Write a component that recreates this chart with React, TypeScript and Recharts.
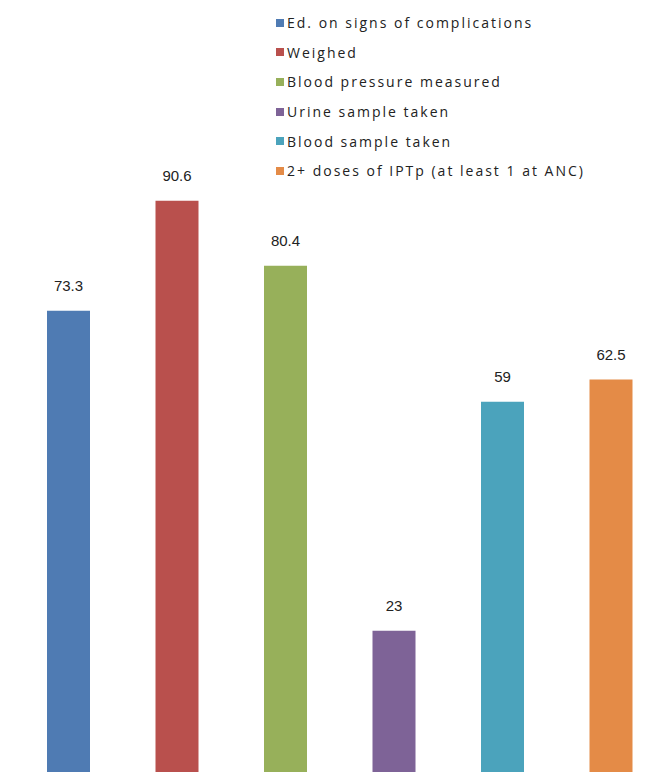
import { BarChart, Bar, XAxis, YAxis, Cell, LabelList } from 'recharts';

const categories = [
	'Ed. on signs of complications',
	'Weighed',
	'Blood pressure measured',
	'Urine sample taken',
	'Blood sample taken',
	'2+ doses of IPTp (at least 1 at ANC)',
];
const values = [73.3, 90.6, 80.4, 23, 59, 62.5];
const colors = ['#4F7BB3', '#B9504D', '#97B05A', '#7E6397', '#4BA3BC', '#E48B47'];

const chartData = categories.map((name, i) => ({ name, value: values[i] }));

function ChartLegend() {
	return (
		<div
			style={{
				position: 'absolute',
				top: 8,
				left: 276,
				fontFamily: '"Open Sans", sans-serif',
				fontSize: 14,
				letterSpacing: 2,
				color: '#222',
			}}>
			{categories.map((name, i) => (
				<div
					key={name}
					style={{ display: 'flex', alignItems: 'center', height: 29.6, whiteSpace: 'nowrap' }}>
					<span style={{ width: 8, height: 8, background: colors[i], marginRight: 3, display: 'inline-block' }} />
					<span>{name}</span>
				</div>
			))}
		</div>
	);
}

export default function App() {
	return (
		<div style={{ position: 'fixed', top: 0, left: 0, width: 670, height: 772, overflow: 'hidden', background: '#fff' }}>
			<BarChart
				width={670}
				height={790}
				data={chartData}
				margin={{ top: 141, right: 5, left: 14, bottom: 13 }}>
				<XAxis
					dataKey='name'
					hide
				/>
				<YAxis
					hide
					domain={[0, 100]}
				/>
				<Bar
					dataKey='value'
					barSize={43}
					isAnimationActive={false}>
					{chartData.map((d, i) => (
						<Cell
							key={d.name}
							fill={colors[i]}
						/>
					))}
					<LabelList
						dataKey='value'
						position='top'
						offset={20}
						style={{ fontFamily: '"Liberation Sans", sans-serif', fontSize: 15, fill: '#222' }}
					/>
				</Bar>
			</BarChart>
			<ChartLegend />
		</div>
	);
}
